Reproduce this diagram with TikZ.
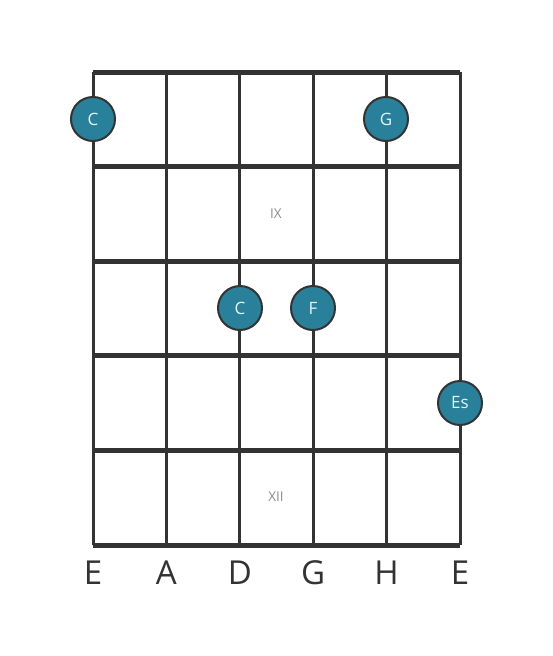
\documentclass[tikz,border=0pt]{standalone}
\usepackage{fontspec}
\setmainfont{Open Sans}
\usetikzlibrary{positioning, calc}
\definecolor{wire}{HTML}{333333}
\definecolor{dot}{HTML}{28809B}
\definecolor{dottext}{HTML}{E6F6FA}

\begin{document}
\begin{tikzpicture}[x=1pt, y=-1pt,
		fretline/.style={draw=wire, line width=5pt},
		stringline/.style={draw=wire, line width=3pt},
		notedot/.style={circle, draw=wire, line width=2pt, fill=dot, minimum size=44pt, inner sep=0pt, text=dottext, font=\fontsize{17}{17}\selectfont},
		fretnum/.style={text=gray!90, font=\fontsize{13.5}{13.5}\selectfont},
		stringname/.style={text=wire, font=\fontsize{33}{33}\selectfont, anchor=base}]
		\useasboundingbox[fill=white] (0,0) rectangle (553,656);
		% frets
		\foreach \j in {0,...,5}
			\draw[fretline] (93,72+94.6*\j) -- (460,72+94.6*\j);
		% strings
		\foreach \i in {0,...,5}
			\draw[stringline] (93+73.4*\i,72) -- (93+73.4*\i,545);
		% fret numbers
		\node[fretnum] (IX) at (276,214) {IX};
		\node[fretnum] (XII) at (276,497) {XII};
		% string names
		\foreach \s [count=\i from 0] in {E,A,D,G,H,E}
			\node[stringname] (name\i) at (93+73.4*\i,584) {\s};
		% notes
		\node[notedot] (C1) at (93,119) {C};
		\node[notedot] (G1) at (386,119) {G};
		\node[notedot] (C3) at (240,308) {C};
		\node[notedot] (F3) at (313,308) {F};
		\node[notedot] (Es4) at (460,403) {Es};
	\end{tikzpicture}
\end{document}
